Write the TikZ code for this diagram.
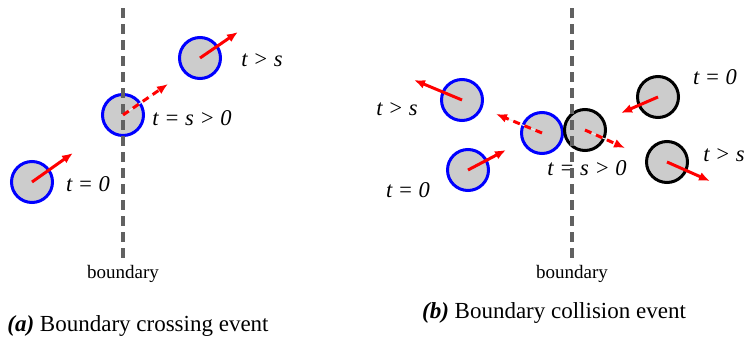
\documentclass[tikz,border=0pt]{standalone}
\usepackage{fontspec}
\setmainfont{Liberation Serif}
\usetikzlibrary{arrows.meta, positioning}

\begin{document}
\begin{tikzpicture}[
    x=1pt, y=-1pt,
    disc/.style={
        circle, draw=blue, line width=3pt,
        fill=gray!40,
        minimum size=41pt, inner sep=0pt
    },
    blackdisc/.style={disc, draw=black},
    vel/.style={-{Latex[length=11pt, width=9pt]}, red, line width=3pt},
    hitvel/.style={
        vel, dash pattern=on 7pt off 5pt,
        preaction={draw=gray!15, line width=1pt, solid, -}
    },
    tlabel/.style={font=\fontsize{22.5}{26}\selectfont\itshape},
    wall/.style={draw=black!62, line width=3.6pt, dash pattern=on 10pt off 6pt},
    walllabel/.style={font=\fontsize{19}{22}\selectfont, below=0pt},
    caption/.style={font=\fontsize{23}{26}\selectfont}
]
\useasboundingbox (0,0) rectangle (746,340);

% (a) crossing
\node[disc] (a0) at (32,182) {};
\node[disc] (a1) at (123,115) {};
\node[disc] (a2) at (200,58) {};
\coordinate (va0) at (73,153);
\coordinate (va1) at (168,84);
\coordinate (va2) at (238,32);

\node[tlabel] (ta0) at (88,184) {t = 0};
\node[tlabel] (ta1) at (192,118) {t = s > 0};
\node[tlabel] (ta2) at (262,60) {t > s};

\coordinate (wa top) at (123,8);
\coordinate (wa bot) at (123,262);
\draw[wall] (wa top) -- (wa bot);
\node[walllabel] (ba) at (wa bot) {boundary};

\draw[vel] (a0.center) -- (va0);
\draw[hitvel] (a1.center) -- (va1);
\draw[vel] (a2.center) -- (va2);

\node[caption] (capa) at (138,326) {\textbf{\textit{(a)}} Boundary crossing event};

% (b) collision
\node[disc] (b0) at (468,170) {};
\node[disc] (b1) at (542,133) {};
\node[disc] (b2) at (462,100) {};
\node[blackdisc] (c0) at (658,97) {};
\node[blackdisc] (c1) at (585,130) {};
\node[blackdisc] (c2) at (667,162) {};
\coordinate (vb0) at (506,150);
\coordinate (vb1) at (496,114);
\coordinate (vb2) at (414,80);
\coordinate (vc0) at (621,113);
\coordinate (vc1) at (625,148);
\coordinate (vc2) at (710,181);

\node[tlabel] (tb0) at (408,190) {t = 0};
\node[tlabel] (tb2) at (397,109) {t > s};
\node[tlabel] (tc0) at (715,77) {t = 0};
\node[tlabel] (tc1) at (587,168) {t = s > 0};
\node[tlabel] (tc2) at (724,155) {t > s};

\coordinate (wb top) at (572,8);
\coordinate (wb bot) at (572,262);
\draw[wall] (wb top) -- (wb bot);
\node[walllabel] (bb) at (wb bot) {boundary};

\draw[vel] (b0.center) -- (vb0);
\draw[hitvel] (b1.center) -- (vb1);
\draw[vel] (b2.center) -- (vb2);
\draw[vel] (c0.center) -- (vc0);
\draw[hitvel] (c1.center) -- (vc1);
\draw[vel] (c2.center) -- (vc2);

\node[caption] (capb) at (554,313) {\textbf{\textit{(b)}} Boundary collision event};

\end{tikzpicture}
\end{document}
